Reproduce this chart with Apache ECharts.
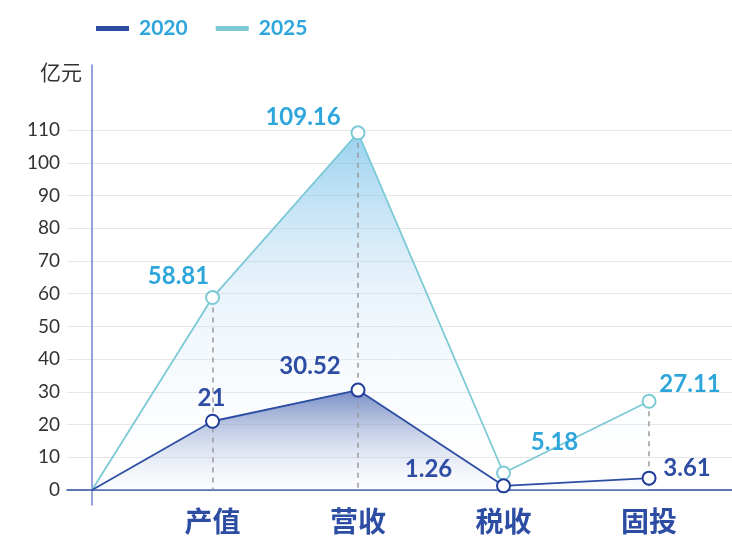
<!DOCTYPE html>
<html>
<head>
<meta charset="utf-8">
<script src="https://cdn.jsdelivr.net/npm/echarts@6/dist/echarts.min.js"></script>
<style>
  html, body { margin: 0; padding: 0; background: #ffffff; }
  #chart { width: 732px; height: 536px; }
</style>
</head>
<body>
<div id="chart"></div>
<script>
// Indicator names along the x axis (positions 1..4 on the value axis)
const categories = ['产值', '营收', '税收', '固投'];
// Values in 亿元
const values2020 = [21, 30.52, 1.26, 3.61];
const values2025 = [58.81, 109.16, 5.18, 27.11];
const seriesNames = ['2020', '2025'];
const yTicks = [0, 10, 20, 30, 40, 50, 60, 70, 80, 90, 100, 110];
const yUnit = '亿元';

// Both lines start from the origin at the y axis
const originX = 0.172;
const catX = categories.map((c, i) => i + 1);

const FONT = 'Lato, "Noto Sans CJK SC", sans-serif';
const DARK = '#2c4da3';
const DARK_BORDER = '#1f3d99';
const LIGHT_TEXT = '#2ea6dc';
const LIGHT_LINE = '#7ccad6';

function toPoints(vals) {
  return [[originX, 0]].concat(vals.map((v, i) => [catX[i], v]));
}

// Label offsets per point, relative to the default 'top' placement
const offsets2020 = [[-1, 2], [-48, 1], [-75, 8], [38, 15]];
const offsets2025 = [[-34, 3], [-55, 9], [51, -6], [41, 8]];

function markers(vals, offs, color) {
  return vals.map((v, i) => ({
    value: [catX[i], v],
    label: {
      show: true,
      position: 'top',
      offset: offs[i],
      formatter: String(v),
      color: color,
      fontSize: 24,
      fontWeight: 'bold',
      fontFamily: FONT
    }
  }));
}

// Dashed drop lines from the higher point of each category to the axis
const dropLines = catX.map((x, i) => [
  { coord: [x, Math.max(values2020[i], values2025[i])] },
  { coord: [x, 0] }
]);

const chart = echarts.init(document.getElementById('chart'));
chart.setOption({
  animation: false,
  backgroundColor: '#ffffff',
  legend: {
    left: 91,
    top: 13,
    itemWidth: 33,
    itemHeight: 5,
    itemGap: 28,
    icon: 'rect',
    data: [
      { name: seriesNames[0], itemStyle: { color: DARK } },
      { name: seriesNames[1], itemStyle: { color: LIGHT_LINE } }
    ],
    textStyle: {
      color: LIGHT_TEXT, fontSize: 21, fontWeight: 'bold', fontFamily: FONT,
      padding: [0, 0, 0, 5]
    }
  },
  grid: { left: 67, right: 0, top: 65, bottom: 31, containLabel: false, outerBoundsMode: 'none' },
  xAxis: {
    type: 'value',
    min: 0,
    max: 4.57,
    axisLine: { show: true, onZero: true, lineStyle: { color: DARK, width: 1.5 } },
    axisTick: { show: false },
    splitLine: { show: false },
    axisLabel: {
      customValues: catX,
      formatter: v => categories[Math.round(v) - 1] || '',
      color: DARK,
      fontSize: 28,
      fontWeight: 'bold',
      fontFamily: FONT,
      margin: 4
    }
  },
  yAxis: {
    type: 'value',
    min: -4.6,
    max: 129.9,
    offset: -25,
    name: yUnit,
    nameLocation: 'end',
    nameGap: -8,
    nameTextStyle: {
      color: '#333333',
      fontSize: 21,
      fontFamily: FONT,
      align: 'right',
      verticalAlign: 'middle',
      padding: [0, 10, 0, 0]
    },
    axisLine: { show: true, onZero: false, lineStyle: { color: '#6f84cc', width: 1.5 } },
    axisTick: { show: false, customValues: yTicks },
    axisLabel: {
      customValues: yTicks,
      color: '#333333',
      fontSize: 19,
      fontFamily: FONT,
      margin: 32
    },
    splitLine: { show: true, lineStyle: { color: '#e6e6e6', width: 1 } }
  },
  series: [
    {
      name: seriesNames[1],
      type: 'line',
      data: toPoints(values2025),
      showSymbol: false,
      z: 2,
      lineStyle: { color: LIGHT_LINE, width: 1.8 },
      itemStyle: { color: LIGHT_LINE },
      areaStyle: {
        color: new echarts.graphic.LinearGradient(0, 0, 0, 1, [
          { offset: 0, color: 'rgba(105,188,232,0.97)' },
          { offset: 0.45, color: 'rgba(200,225,245,0.55)' },
          { offset: 1, color: 'rgba(255,255,255,0.1)' }
        ])
      }
    },
    {
      name: seriesNames[0],
      type: 'line',
      data: toPoints(values2020),
      showSymbol: false,
      z: 3,
      lineStyle: { color: DARK, width: 1.8 },
      itemStyle: { color: DARK },
      areaStyle: {
        color: new echarts.graphic.LinearGradient(0, 0, 0, 1, [
          { offset: 0, color: 'rgba(44,77,163,0.9)' },
          { offset: 1, color: 'rgba(235,240,250,0.2)' }
        ])
      },
      markLine: {
        silent: true,
        z: 4,
        symbol: 'none',
        label: { show: false },
        lineStyle: { color: '#9a9a9a', type: [5, 5], width: 1.5 },
        data: dropLines
      }
    },
    {
      name: seriesNames[1],
      type: 'scatter',
      data: markers(values2025, offsets2025, LIGHT_TEXT),
      symbol: 'circle',
      symbolSize: 13,
      z: 6,
      itemStyle: { color: '#ffffff', borderColor: LIGHT_LINE, borderWidth: 2, opacity: 1 }
    },
    {
      name: seriesNames[0],
      type: 'scatter',
      data: markers(values2020, offsets2020, DARK),
      symbol: 'circle',
      symbolSize: 13,
      z: 7,
      itemStyle: { color: '#ffffff', borderColor: DARK_BORDER, borderWidth: 2, opacity: 1 }
    }
  ]
});
</script>
</body>
</html>
